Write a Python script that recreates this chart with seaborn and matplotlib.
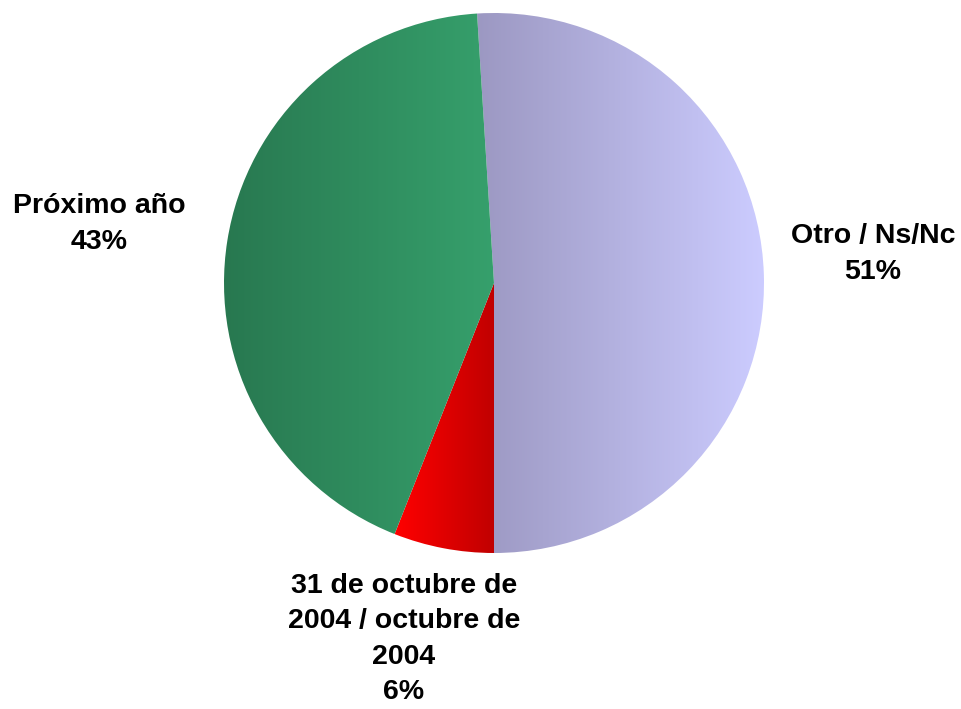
import numpy as np
import matplotlib
matplotlib.use("Agg")
import matplotlib.pyplot as plt
import seaborn as sns
from matplotlib.colors import LinearSegmentedColormap

# datos del grafico
etiquetas = ["Otro / Ns/Nc", "31 de octubre de\n2004 / octubre de\n2004", "Próximo año"]
valores = [51, 6, 43]
colores_izq = ["#9c98c2", "#ff0000", "#287850"]
colores_der = ["#ccccff", "#c00000", "#36a06c"]
pos_etiquetas = [(873, 455), (404, 70), (99, 485)]

sns.set_theme(style="white")
plt.rcParams['font.family'] = ['Liberation Sans', 'DejaVu Sans']

fig = plt.figure(figsize=(9.62, 7.09), dpi=100)
ax = fig.add_axes([0, 0, 1, 1])

wedges, _ = ax.pie(valores, startangle=93.6, counterclock=False,
                   center=(494, 426), radius=270, frame=True,
                   wedgeprops=dict(linewidth=0))
ax.axis("off")

# relleno degradado horizontal en cada porcion
grad = np.linspace(0, 1, 256).reshape(1, -1)
for w, c1, c2 in zip(wedges, colores_izq, colores_der):
    w.set_facecolor("none")
    ext = w.get_path().get_extents()
    cmap = LinearSegmentedColormap.from_list("g", [c1, c2])
    im = ax.imshow(grad, cmap=cmap, aspect="auto",
                   extent=[ext.x0, ext.x1, ext.y0, ext.y1], zorder=1)
    im.set_clip_path(w)
ax.set_xlim(0, 962)
ax.set_ylim(0, 709)

for lab, v, (x, y) in zip(etiquetas, valores, pos_etiquetas):
    ax.text(x, y, f"{lab}\n{v}%", ha="center", va="center", fontsize=20.5,
            fontweight="bold", linespacing=1.46, color="black")

fig.savefig("out.png", dpi=100)
